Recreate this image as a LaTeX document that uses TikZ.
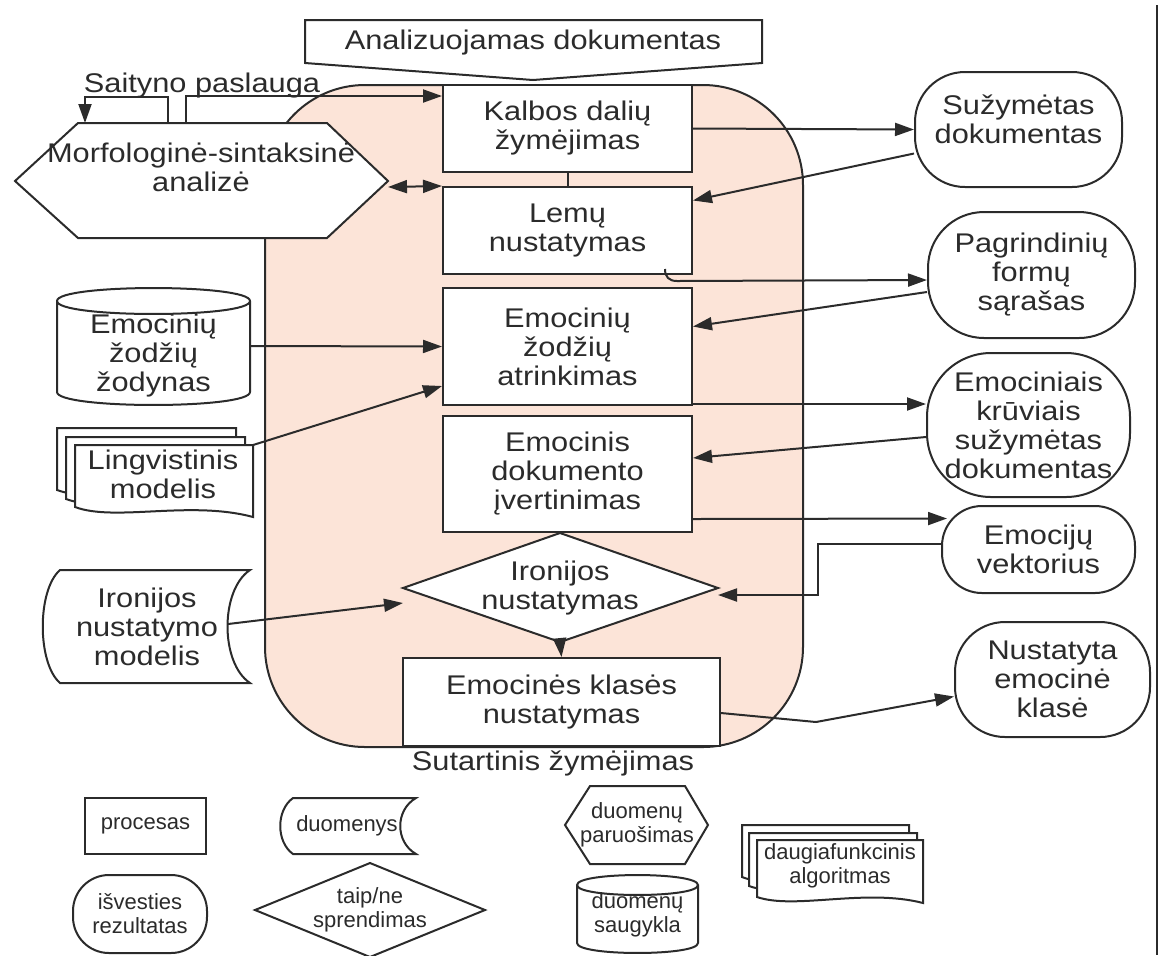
\documentclass[tikz,border=0pt]{standalone}
\usepackage{fontspec}
\setmainfont{Liberation Sans}[FakeStretch=1.14]
\newfontfamily\legendfont{Liberation Sans}
\usetikzlibrary{arrows.meta}
\definecolor{ink}{HTML}{2B2B2B}
\definecolor{peach}{RGB}{252,228,216}

\begin{document}
\begin{tikzpicture}[x=0.5pt, y=-0.5pt, >={Triangle[length=9.5pt,width=6.5pt]},
  line width=1pt, color=ink, font=\fontsize{13.5pt}{14.5pt}\selectfont,
  procbox/.style={draw, fill=white, align=center, inner sep=0pt},
  termbox/.style={draw, fill=white, align=center, inner sep=0pt},
  lbl/.style={align=center, inner sep=0pt},
  legendtxt/.style={font=\legendfont\fontsize{11pt}{12pt}\selectfont}]

\useasboundingbox (0,0) rectangle (1161,955);

% ==================== FRAME ====================
\draw[fill=peach, rounded corners=50pt] (265,85) rectangle (803,747);
\draw[line width=1.2pt] (1157,5) -- (1157,955);

% Input document
\draw[fill=white] (305,20) -- (762,20) -- (762,63) -- (533,80) -- (305,63) -- cycle;
\node[lbl] (dokin) at (533,43) {Analizuojamas dokumentas};

% Preparation hexagon
\draw[fill=white] (15,181) -- (78,123) -- (327,123) -- (388,181) -- (327,238) -- (78,238) -- cycle;
\node[lbl] (morf) at (201,167) {Morfologinė-sintaksinė\\analizė};
\coordinate (morf-a) at (168,123);
\coordinate (morf-b) at (85,123);
\coordinate (morf-c) at (186,123);
\coordinate (morf-e) at (388,187);
\node[lbl] (saityno) at (202,86) {Saityno paslauga};

% ==================== PROCESSES ====================
\node[procbox, minimum width=124.5pt, minimum height=43.5pt] (kalbos) at (567.5,128.5) {Kalbos dalių\\žymėjimas};
\node[procbox, minimum width=124.5pt, minimum height=43.5pt] (lemu) at (567.5,230.5) {Lemų\\nustatymas};
\node[procbox, minimum width=124.5pt, minimum height=58.5pt] (atrink) at (567.5,346.5) {Emocinių\\žodžių\\atrinkimas};
\node[procbox, minimum width=124.5pt, minimum height=58pt] (ivert) at (567.5,474) {Emocinis\\dokumento\\įvertinimas};

% Decision
\draw[fill=white] (403,588) coordinate (ir-w) -- (560,533) coordinate (ir-n)
  -- (718,588) coordinate (ir-e) -- (560,642) coordinate (ir-s) -- cycle;
\node[lbl] (ironija) at (560,588) {Ironijos\\nustatymas};

\node[procbox, minimum width=158.5pt, minimum height=44pt] (emoklase) at (561.5,702) {Emocinės klasės\\nustatymas};
\node[lbl] (sutart) at (553,763) {Sutartinis žymėjimas};

% ==================== OUTPUTS ====================
\node[termbox, rounded corners=25pt, minimum width=103.5pt, minimum height=57.5pt] (suz) at (1018.5,129.5) {};
\node[lbl] (suz-t) at (1018.5,119) {Sužymėtas\\dokumentas};
\node[termbox, rounded corners=28pt, minimum width=103.5pt, minimum height=63pt] (pagr) at (1031.5,275) {Pagrindinių\\formų\\sąrašas};
\node[termbox, rounded corners=32pt, minimum width=101.5pt, minimum height=72pt] (emokr) at (1028.5,425) {Emociniais\\krūviais\\sužymėtas\\dokumentas};
\node[termbox, rounded corners=20pt, minimum width=96.5pt, minimum height=43.5pt] (vekt) at (1038.5,549.5) {Emocijų\\vektorius};
\node[termbox, rounded corners=25pt, minimum width=97.5pt, minimum height=57.5pt] (nust) at (1052.5,679.5) {Nustatyta\\emocinė\\klasė};

% ==================== DATA (left) ====================
% Dictionary (storage)
\draw[fill=white] (57,301) -- (57,392) .. controls (57,409.3) and (250,409.3) .. (250,392)
  -- (250,301) .. controls (250,283.7) and (57,283.7) .. (57,301) -- cycle;
\draw (57,301) .. controls (57,318.3) and (250,318.3) .. (250,301);
\node[lbl] (zodynas) at (153.5,356) {Emocinių\\žodžių\\žodynas};
\coordinate (zod-e) at (250,346);

% Linguistic model (multi-page)
\draw[fill=white] (57,428) -- (236,428) -- (236,500) .. controls (173,483) and (98,505) .. (57,490) -- cycle;
\draw[fill=white] (66,437) -- (245,437) -- (245,509) .. controls (182,492) and (107,514) .. (66,499) -- cycle;
\draw[fill=white] (75,445) -- (253,445) -- (253,517) .. controls (190,500) and (115,522) .. (75,507) -- cycle;
\node[lbl] (lingv) at (163,474) {Lingvistinis\\modelis};
\coordinate (lingv-e) at (253,445);

% Irony model (data)
\draw[fill=white] (60,570) -- (250,570) .. controls (220,590) and (220,663) .. (250,683)
  -- (60,683) .. controls (37,663) and (37,590) .. (60,570) -- cycle;
\node[lbl] (ironmod) at (147,627) {Ironijos\\nustatymo\\modelis};
\coordinate (ironmod-e) at (228,624);

% ==================== CONNECTORS ====================
\draw[->] (morf-a) -- ++(0,-26) -| (morf-b);
\draw[->] (morf-c) |- ([yshift=-6pt]kalbos.north west);
\draw[<->] (morf-e) -- (lemu.north west);
\draw (kalbos.south) -- (kalbos.south |- lemu.north);

\draw[->] (kalbos.east) -- (suz.west);
\draw[->] ([yshift=-12pt]suz.west) -- ([yshift=15pt]lemu.east);
\draw[->] ([xshift=-14pt,yshift=3pt]lemu.south east) .. controls +(0,8) and +(-8,0) .. ++(12,12)
  -- ([yshift=-2.5pt]pagr.west);
\draw[->] ([yshift=-8.5pt]pagr.west) -- ([yshift=10pt]atrink.east);
\draw[->] ([yshift=1pt]atrink.south east) -- ([yshift=10.5pt]emokr.west);
\draw[->] ([yshift=-6pt]emokr.west) -- ([yshift=8pt]ivert.east);
\draw[->] ([yshift=7pt]ivert.south east) -- ([xshift=3pt,yshift=15.5pt]vekt.west);
\draw[->] ([yshift=3pt]vekt.west) -- ++(-123,0) |- ([yshift=-3.5pt]ir-e);
\draw[->] (ir-s) -- (emoklase.north);
\draw[->] ([yshift=-5.5pt]emoklase.east) -- ++(95,9) -- ([yshift=-8.5pt]nust.west);

\draw[->] (zod-e) -- (atrink.west);
\draw[->] (lingv-e) -- ([yshift=10pt]atrink.south west);
\draw[->] (ironmod-e) -- ([yshift=-7.5pt]ir-w);

% ==================== LEGEND ====================
\node[procbox, legendtxt, minimum width=60.5pt, minimum height=28pt] (lgproc) at (145.5,826) {procesas};

\draw[fill=white] (293,798) -- (416,798) .. controls (395,810) and (395,842) .. (416,854)
  -- (293,854) .. controls (276,842) and (276,810) .. (293,798) -- cycle;
\node[lbl, legendtxt] (lgduom) at (347,826) {duomenys};

\draw[fill=white] (565,825) -- (590,786) -- (685,786) -- (708,825) -- (685,864) -- (590,864) -- cycle;
\node[lbl, legendtxt] (lgprep) at (637,825) {duomenų\\paruošimas};

\node[termbox, legendtxt, rounded corners=18pt, minimum width=67pt, minimum height=39pt] (lgout) at (140,914) {išvesties\\rezultatas};

\draw[fill=white] (255,910) -- (370,863) -- (485,910) -- (370,957) -- cycle;
\node[lbl, legendtxt] (lgdec) at (370,910) {taip/ne\\sprendimas};

\draw[fill=white] (577,885) -- (577,943) .. controls (577,956.3) and (698,956.3) .. (698,943)
  -- (698,885) .. controls (698,871.7) and (577,871.7) .. (577,885) -- cycle;
\draw (577,885) .. controls (577,898.3) and (698,898.3) .. (698,885);
\node[lbl, legendtxt] (lgstore) at (637.5,915) {duomenų\\saugykla};

\draw[fill=white] (742,825) -- (909,825) -- (909,885) .. controls (855,872) and (780,892) .. (742,877) -- cycle;
\draw[fill=white] (749,833) -- (917,833) -- (917,894) .. controls (863,880) and (788,900) .. (749,886) -- cycle;
\draw[fill=white] (757,840) -- (923,840) -- (923,903) .. controls (865,888) and (795,910) .. (757,897) -- cycle;
\node[lbl, legendtxt] (lgmulti) at (840,866) {daugiafunkcinis\\algoritmas};

\end{tikzpicture}
\end{document}
